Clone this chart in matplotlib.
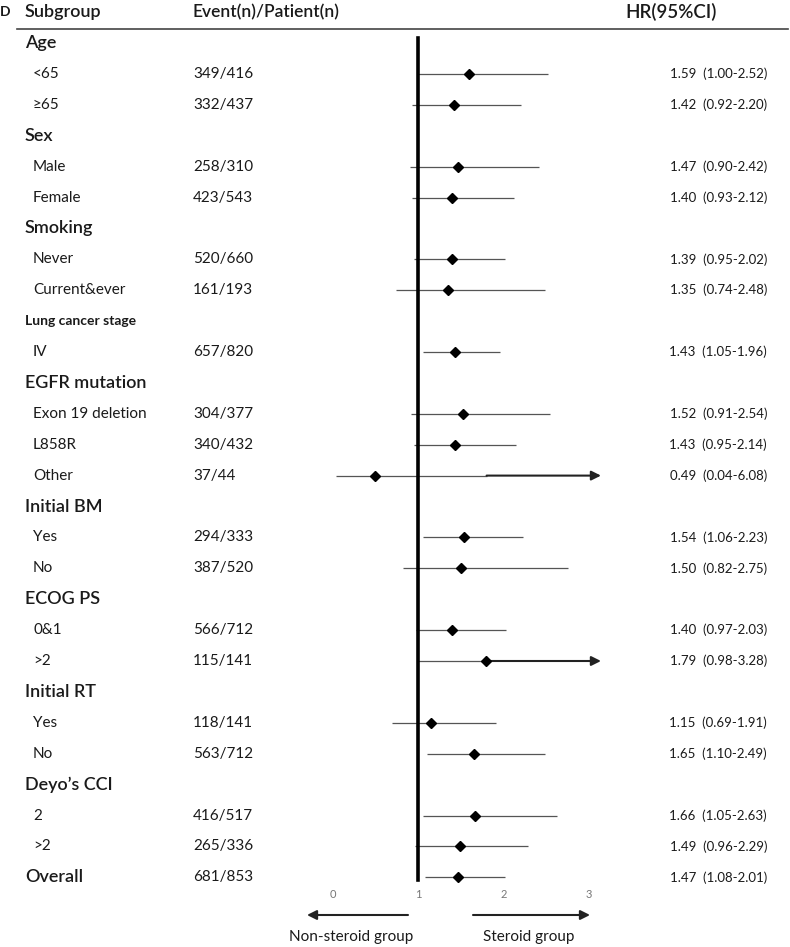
import matplotlib
matplotlib.use("Agg")
import matplotlib.pyplot as plt
from matplotlib.transforms import blended_transform_factory

plt.rcParams['font.family'] = ['Lato', 'DejaVu Sans']

# rows of the forest plot (None = group header without estimate)
labels = ['Age', '<65', '≥65', 'Sex', 'Male', 'Female', 'Smoking', 'Never',
          'Current&ever', 'Lung cancer stage', 'IV', 'EGFR mutation',
          'Exon 19 deletion', 'L858R', 'Other', 'Initial BM', 'Yes', 'No',
          'ECOG PS', '0&1', '>2', 'Initial RT', 'Yes', 'No', 'Deyo’s CCI',
          '2', '>2', 'Overall']
events = [None, '349/416', '332/437', None, '258/310', '423/543', None,
          '520/660', '161/193', None, '657/820', None, '304/377', '340/432',
          '37/44', None, '294/333', '387/520', None, '566/712', '115/141',
          None, '118/141', '563/712', None, '416/517', '265/336', '681/853']
hr = [None, 1.59, 1.42, None, 1.47, 1.40, None, 1.39, 1.35, None, 1.43, None,
      1.52, 1.43, 0.49, None, 1.54, 1.50, None, 1.40, 1.79, None, 1.15, 1.65,
      None, 1.66, 1.49, 1.47]
lo = [None, 1.00, 0.92, None, 0.90, 0.93, None, 0.95, 0.74, None, 1.05, None,
      0.91, 0.95, 0.04, None, 1.06, 0.82, None, 0.97, 0.98, None, 0.69, 1.10,
      None, 1.05, 0.96, 1.08]
hi = [None, 2.52, 2.20, None, 2.42, 2.12, None, 2.02, 2.48, None, 1.96, None,
      2.54, 2.14, 6.08, None, 2.23, 2.75, None, 2.03, 3.28, None, 1.91, 2.49,
      None, 2.63, 2.29, 2.01]
ticks = [0, 1, 2, 3]
x_cap = 3.14

W, H = 790, 947
fig = plt.figure(figsize=(W / 100, H / 100), dpi=100)
ax = fig.add_axes([0, 0, 1, 1])
ax.axis('off')
px = 85.33  # pixels per HR unit
ax.set_xlim(-333 / px, (W - 333) / px)
row_h = 30.9
ax.set_ylim((H - 43) / row_h, -43 / row_h)

tr = blended_transform_factory(ax.transAxes, ax.transData)
txt = '#1a1a1a'

# header
ax.text(0 / W, -1.0, 'D', transform=tr, fontsize=10, fontweight='bold', va='center', color=txt)
ax.text(25 / W, -1.0, 'Subgroup', transform=tr, fontsize=13, fontweight='semibold', va='center', color=txt)
ax.text(193 / W, -1.0, 'Event(n)/Patient(n)', transform=tr, fontsize=12.5, fontweight='semibold', va='center', color=txt)
ax.text(625 / W, -1.0, 'HR(95%CI)', transform=tr, fontsize=13.5, fontweight='semibold', va='center', color=txt)
ax.plot([17 / W, 788 / W], [-0.45, -0.45], transform=tr, color='#444444', lw=1.2)

for i, lab in enumerate(labels):
    if hr[i] is None or lab == 'Overall':
        if lab == 'Lung cancer stage':
            ax.text(25 / W, i, lab, transform=tr, fontsize=10, fontweight='bold', va='center', color=txt)
        else:
            ax.text(25 / W, i, lab, transform=tr, fontsize=13, fontweight='semibold', va='center', color=txt)
    else:
        ax.text(33 / W, i, lab, transform=tr, fontsize=11, va='center', color=txt)
    if events[i] is not None:
        ax.text(193 / W, i, events[i], transform=tr, fontsize=11, va='center', color=txt)
    if hr[i] is None:
        continue
    ax.text(767 / W, i, f'{hr[i]:.2f}  ({lo[i]:.2f}-{hi[i]:.2f})', transform=tr,
            fontsize=9.5, va='center', ha='right', color=txt)
    if hi[i] > x_cap:
        start = max(hr[i], 1.8)
        ax.hlines(i, lo[i], start, color='#555555', lw=0.9)
        ax.annotate('', xy=(x_cap, i), xytext=(start, i),
                    arrowprops=dict(arrowstyle='-|>', color='#222222', lw=1.5,
                                    mutation_scale=14, shrinkA=0, shrinkB=0))
    else:
        ax.hlines(i, lo[i], hi[i], color='#555555', lw=0.9)
    ax.plot(hr[i], i, marker='D', color='black', markersize=5, zorder=5)

# reference line at HR = 1
ax.plot([1, 1], [-0.16, 27.1], color='black', lw=2.6, zorder=4)

for t in ticks:
    ax.text(t, 27.55, str(t), fontsize=8, color='#777777', ha='center', va='center')

# direction arrows
ax.annotate('', xy=(307 / W, 28.22), xytext=(408 / W, 28.22), xycoords=tr, textcoords=tr,
            arrowprops=dict(arrowstyle='-|>', color='#222222', lw=1.5, mutation_scale=14, shrinkA=0, shrinkB=0))
ax.annotate('', xy=(590 / W, 28.22), xytext=(473 / W, 28.22), xycoords=tr, textcoords=tr,
            arrowprops=dict(arrowstyle='-|>', color='#222222', lw=1.5, mutation_scale=14, shrinkA=0, shrinkB=0))
ax.text(351 / W, 28.93, 'Non-steroid group', transform=tr, fontsize=11, ha='center', va='center', color=txt)
ax.text(529 / W, 28.93, 'Steroid group', transform=tr, fontsize=11, ha='center', va='center', color=txt)

fig.savefig('out.png', dpi=100, facecolor='white')
